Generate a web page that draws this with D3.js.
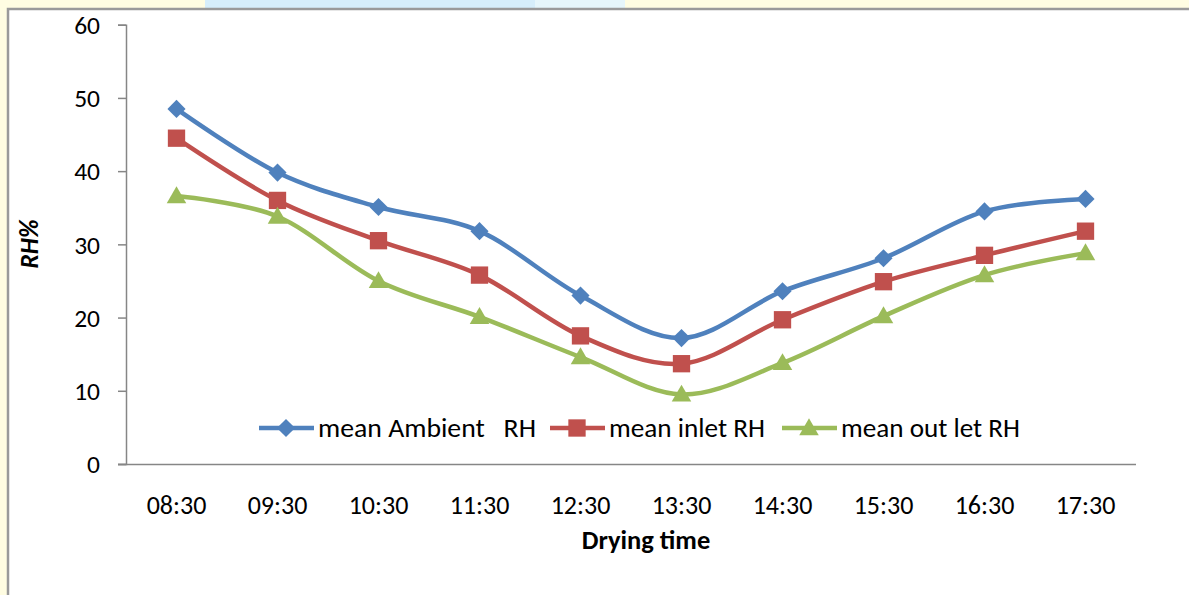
<!DOCTYPE html>
<html><head><meta charset="utf-8">
<script src="https://cdn.jsdelivr.net/npm/d3@7"></script>
<style>
html,body{margin:0;padding:0;background:#fffde2;}
svg{display:block;}
text{font-family:Carlito,Lato,"Open Sans",sans-serif;fill:#000;}
</style></head>
<body>
<svg id="c" width="1189" height="595"></svg>
<script>
const categories = ["08:30","09:30","10:30","11:30","12:30","13:30","14:30","15:30","16:30","17:30"];
const ambient = [48.5,39.8,35.1,31.8,23.0,17.2,23.6,28.1,34.5,36.2];
const inlet   = [44.5,36.0,30.5,25.8,17.5,13.7,19.7,24.9,28.5,31.8];
const outlet  = [36.6,33.8,25.0,20.1,14.6,9.5,13.8,20.2,25.8,28.8];
const seriesNames = ["mean Ambient   RH","mean inlet RH","mean out let RH"];
const yTicks = [0,10,20,30,40,50,60];

const svg = d3.select("#c");
const FONT = "Carlito,Lato,sans-serif";
// background decorations
svg.append("rect").attr("x",205).attr("y",0).attr("width",330).attr("height",8).attr("fill","#d6eefb");
svg.append("rect").attr("x",535).attr("y",0).attr("width",90).attr("height",8).attr("fill","#e6f6fb");
svg.append("rect").attr("x",8).attr("y",9).attr("width",1200).attr("height",600)
  .attr("fill","#fff").attr("stroke","#9a9a9a").attr("stroke-width",2.5);

const x = d3.scaleBand().domain(categories).range([126,1136]);
const y = d3.scaleLinear().domain([0,60]).range([464,24.7]);

const yAxis = svg.append("g").attr("transform","translate(126,0)")
  .call(d3.axisLeft(y).tickValues(yTicks).tickSize(8).tickPadding(18));
yAxis.attr("font-family",FONT).attr("font-size",25.5);
yAxis.select(".domain").attr("stroke","#868686").attr("stroke-width",1.5);
yAxis.selectAll(".tick line").attr("stroke","#868686").attr("stroke-width",1.5);
yAxis.selectAll(".tick text").attr("dy","0.34em").attr("fill","#000");

const xAxis = svg.append("g").attr("transform","translate(0,464)")
  .call(d3.axisBottom(x).tickSize(0));
xAxis.attr("font-family",FONT).attr("font-size",26);
xAxis.select(".domain").attr("stroke","#868686").attr("stroke-width",1.5).attr("d","M118,0.5H1136");
xAxis.selectAll(".tick text").attr("y",50).attr("dy",0).attr("fill","#000");

svg.append("text").attr("transform","translate(38,244) rotate(-90)")
  .attr("text-anchor","middle").style("font-size","25.5px").style("font-weight","bold").style("font-style","italic").text("RH%");
svg.append("text").attr("x",646).attr("y",549).attr("text-anchor","middle")
  .style("font-size","26.5px").style("font-weight","bold").text("Drying time");

const colors = ["#4f81bd","#c0504d","#9bbb59"];
const data = [ambient,inlet,outlet];
const line = d3.line().x((d,i)=>x(categories[i])+x.bandwidth()/2).y(d=>y(d)).curve(d3.curveCardinal.tension(0));

data.forEach((vals,k)=>{
  svg.append("path").attr("d",line(vals)).attr("fill","none").attr("stroke",colors[k]).attr("stroke-width",4.5);
});
function drawSym(cx,cy,k){
  if(k===0){
    svg.append("path").attr("d",d3.symbol(d3.symbolSquare,165)()).attr("transform",`translate(${cx},${cy}) rotate(45)`).attr("fill",colors[0]);
  } else if(k===1){
    svg.append("path").attr("d",d3.symbol(d3.symbolSquare,300)()).attr("transform",`translate(${cx},${cy})`).attr("fill",colors[1]);
  } else {
    svg.append("path").attr("d",d3.symbol(d3.symbolTriangle,165)()).attr("transform",`translate(${cx},${cy+1.5})`).attr("fill",colors[2]);
  }
}
data.forEach((vals,k)=>{
  vals.forEach((v,i)=>{
    drawSym(x(categories[i])+x.bandwidth()/2, y(v), k);
  });
});
// legend
const legX = [259,550,782];
const legW = [218,156,179];
seriesNames.forEach((n,k)=>{
  const lx = legX[k], ly = 428;
  svg.append("line").attr("x1",lx).attr("x2",lx+55).attr("y1",ly).attr("y2",ly).attr("stroke",colors[k]).attr("stroke-width",4.5);
  drawSym(lx+27,ly,k);
  svg.append("text").attr("x",lx+59).attr("y",ly).attr("dy","0.34em")
    .style("font-size","27px").style("white-space","pre")
    .attr("textLength",legW[k]).attr("lengthAdjust","spacingAndGlyphs").text(n);
});
</script>
</body></html>
